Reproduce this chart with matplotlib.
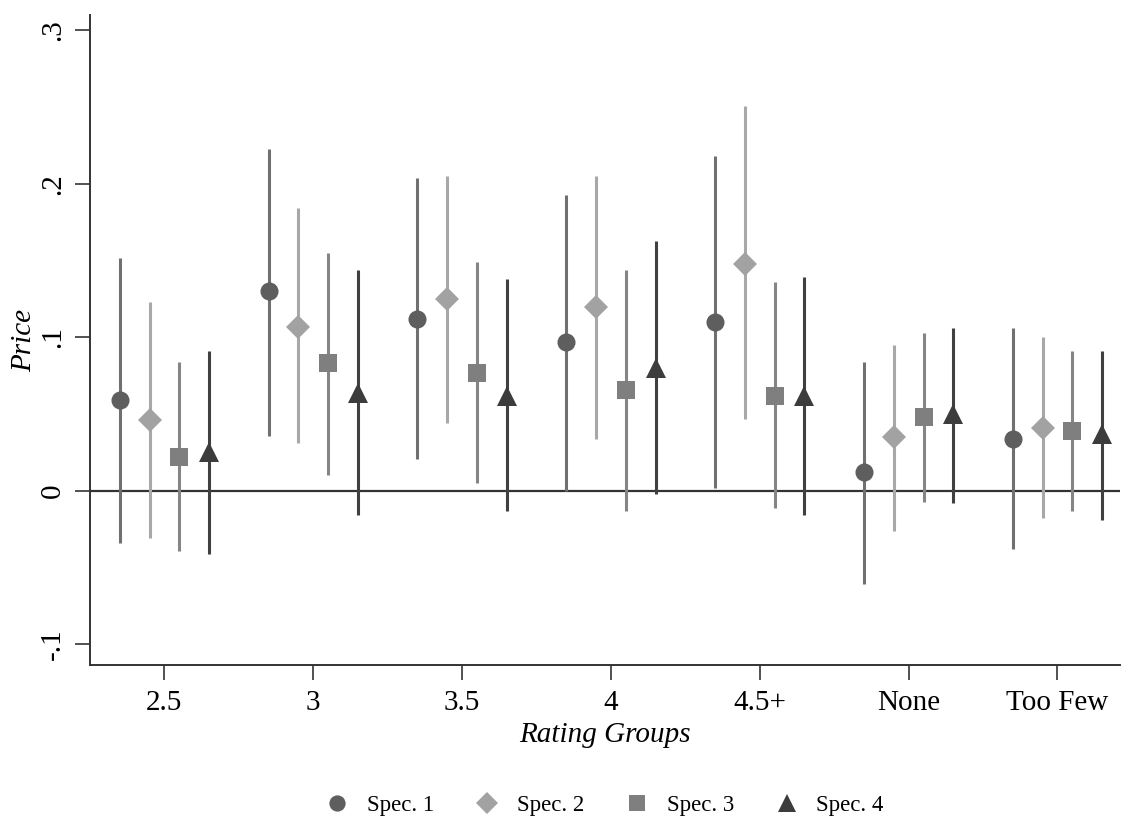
import matplotlib
matplotlib.use('Agg')
import matplotlib.pyplot as plt
import numpy as np

plt.rcParams['font.family'] = ['Liberation Serif', 'DejaVu Serif']

groups = ['2.5', '3', '3.5', '4', '4.5+', 'None', 'Too Few']
specs = ['Spec. 1', 'Spec. 2', 'Spec. 3', 'Spec. 4']

# point estimates and confidence bounds, one list per spec
est = {
    'Spec. 1': [0.059, 0.130, 0.112, 0.097, 0.110, 0.012, 0.034],
    'Spec. 2': [0.046, 0.107, 0.125, 0.120, 0.148, 0.035, 0.041],
    'Spec. 3': [0.022, 0.083, 0.077, 0.066, 0.062, 0.048, 0.039],
    'Spec. 4': [0.025, 0.064, 0.062, 0.080, 0.062, 0.050, 0.037],
}
hi = {
    'Spec. 1': [0.152, 0.223, 0.204, 0.193, 0.218, 0.084, 0.106],
    'Spec. 2': [0.123, 0.184, 0.205, 0.205, 0.251, 0.095, 0.100],
    'Spec. 3': [0.084, 0.155, 0.149, 0.144, 0.136, 0.103, 0.091],
    'Spec. 4': [0.091, 0.144, 0.138, 0.163, 0.139, 0.106, 0.091],
}
lo = {
    'Spec. 1': [-0.034, 0.036, 0.021, 0.000, 0.002, -0.061, -0.038],
    'Spec. 2': [-0.031, 0.031, 0.044, 0.034, 0.047, -0.026, -0.018],
    'Spec. 3': [-0.039, 0.010, 0.005, -0.013, -0.011, -0.007, -0.013],
    'Spec. 4': [-0.041, -0.016, -0.013, -0.002, -0.016, -0.008, -0.019],
}

offsets = [-0.3, -0.1, 0.1, 0.3]
markers = ['o', 'D', 's', '^']
msizes = [13, 12, 12.5, 14]
mcolors = ['#5e5e5e', '#a2a2a2', '#7f7f7f', '#3c3c3c']
lcolors = ['#707070', '#a8a8a8', '#858585', '#404040']

fig = plt.figure(figsize=(11.22, 8.21), dpi=100)
ax = fig.add_axes([0.0802, 0.19, 0.918, 0.7917])

x = np.arange(1, len(groups) + 1)
ax.axhline(0, color='#333333', lw=1.6, zorder=1)

handles = []
for i, s in enumerate(specs):
    xs = x + offsets[i]
    ax.vlines(xs, lo[s], hi[s], color=lcolors[i], lw=2.2, zorder=2)
    h, = ax.plot(xs, est[s], linestyle='none', marker=markers[i], ms=msizes[i],
                 color=mcolors[i], markeredgewidth=0, zorder=3, label=s)
    handles.append(h)

ax.set_xlim(0.5, 7.42)
ax.set_ylim(-0.1135, 0.31)
ax.set_xticks(x)
ax.set_xticklabels(groups)
ax.set_yticks([-0.1, 0, 0.1, 0.2, 0.3])
ax.set_yticklabels(['-.1', '0', '.1', '.2', '.3'], rotation=90, va='center')
ax.tick_params(axis='both', labelsize=21, length=11, width=1.2, color='#333333')
ax.tick_params(axis='x', pad=7)
ax.tick_params(axis='y', pad=6)

for side in ['top', 'right']:
    ax.spines[side].set_visible(False)
for side in ['left', 'bottom']:
    ax.spines[side].set_color('#333333')
    ax.spines[side].set_linewidth(1.4)

ax.set_xlabel('Rating Groups', fontsize=21, style='italic', labelpad=4)
ax.set_ylabel('Price', fontsize=21, style='italic', labelpad=2)

fig.legend(handles=handles, labels=specs, loc='center', bbox_to_anchor=(0.534, 0.019),
           ncol=4, frameon=False, fontsize=16.5, handletextpad=0.3, columnspacing=1.3,
           markerscale=0.9)

fig.savefig('out.png', dpi=100)
